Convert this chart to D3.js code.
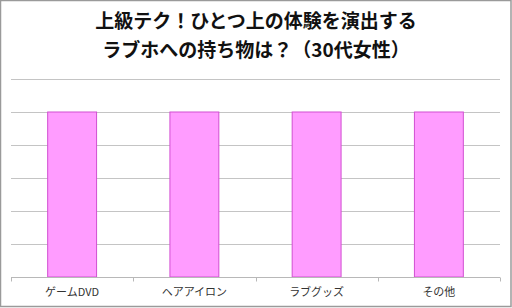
<!DOCTYPE html>
<html>
<head>
<meta charset="utf-8">
<script src="https://cdn.jsdelivr.net/npm/d3@7"></script>
<style>
  body { margin: 0; background: #fff; }
  svg { display: block; }
</style>
</head>
<body>
<div id="chart"></div>
<script>
// Chart data
var titleLines = ["上級テク！ひとつ上の体験を演出する", "ラブホへの持ち物は？（30代女性）"];
var categories = ["ゲームDVD", "ヘアアイロン", "ラブグッズ", "その他"];
var values = [25, 25, 25, 25];
var yTicks = [0, 5, 10, 15, 20, 25, 30];

var width = 512, height = 308;
var margin = { top: 79, right: 12, bottom: 31, left: 11 };

var svg = d3.select("#chart").append("svg")
  .attr("width", width)
  .attr("height", height);

// Outer frame
svg.append("rect")
  .attr("x", 0.5).attr("y", 0.5)
  .attr("width", width - 1.5).attr("height", height - 2)
  .attr("fill", "#fff")
  .attr("stroke", "#9a9a9a")
  .attr("stroke-width", 1.5);

// Title
svg.append("g")
  .selectAll("text")
  .data(titleLines)
  .enter().append("text")
    .attr("x", width / 2)
    .attr("y", function(d, i) { return 28 + i * 29; })
    .attr("text-anchor", "middle")
    .attr("font-family", "'Noto Sans CJK JP', sans-serif")
    .attr("font-weight", "bold")
    .attr("font-size", 19)
    .attr("fill", "#111")
    .text(function(d) { return d; });

var x = d3.scaleBand()
  .domain(categories)
  .range([margin.left, width - margin.right])
  .padding(0);

var y = d3.scaleLinear()
  .domain([0, 30])
  .range([height - margin.bottom, margin.top]);

// Gridlines
svg.append("g")
  .selectAll("line")
  .data(yTicks)
  .enter().append("line")
    .attr("x1", margin.left)
    .attr("x2", width - margin.right)
    .attr("y1", function(d) { return Math.round(y(d)) + 0.5; })
    .attr("y2", function(d) { return Math.round(y(d)) + 0.5; })
    .attr("stroke", "#c4c4c4")
    .attr("stroke-width", 1.2);

// Bars
var barW = x.bandwidth() * 0.4;
svg.append("g")
  .selectAll("rect")
  .data(values)
  .enter().append("rect")
    .attr("x", function(d, i) { return x(categories[i]) + (x.bandwidth() - barW) / 2; })
    .attr("y", function(d) { return y(d); })
    .attr("width", barW)
    .attr("height", function(d) { return y(0) - y(d); })
    .attr("fill", "#ff9cff")
    .attr("stroke", "#d24fd2")
    .attr("stroke-width", 1);

// Category axis
var xAxis = svg.append("g")
  .attr("transform", "translate(0," + (Math.round(y(0)) + 0.5) + ")");

xAxis.append("line")
  .attr("x1", margin.left).attr("x2", width - margin.right)
  .attr("stroke", "#b8b8b8");

xAxis.selectAll("line.tick")
  .data(d3.range(categories.length + 1))
  .enter().append("line")
    .attr("class", "tick")
    .attr("x1", function(i) { return Math.round(margin.left + i * x.step()) + 0.5; })
    .attr("x2", function(i) { return Math.round(margin.left + i * x.step()) + 0.5; })
    .attr("y1", 0).attr("y2", 4)
    .attr("stroke", "#b8b8b8");

xAxis.selectAll("text")
  .data(categories)
  .enter().append("text")
    .attr("x", function(d) { return x(d) + x.bandwidth() / 2; })
    .attr("y", 18)
    .attr("text-anchor", "middle")
    .attr("font-family", "'Noto Sans CJK JP', sans-serif")
    .attr("font-size", 11)
    .attr("fill", "#333")
    .text(function(d) { return d; });
</script>
</body>
</html>
